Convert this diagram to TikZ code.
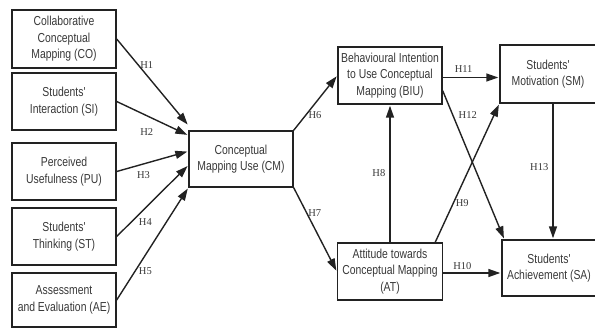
\documentclass[tikz,border=0pt]{standalone}
\usepackage{fontspec}
\setmainfont{Liberation Serif}
\newfontfamily\boxfont[FakeStretch=0.8]{Liberation Sans}
\usetikzlibrary{arrows.meta,calc}
\definecolor{inkgray}{HTML}{222222}
\definecolor{textgray}{HTML}{383838}
\begin{document}
\begin{tikzpicture}[x=1pt,y=-1pt,shorten >=1pt,->,>={Triangle[length=12pt,width=8pt]}]
        \tikzstyle{construct}=[rectangle,draw=inkgray,line width=1.4pt,minimum width=104pt,minimum height=57pt,align=center,inner sep=1pt,text=textgray,font=\boxfont\fontsize{13}{16.5}\selectfont]
        \tikzstyle{link}=[color=inkgray,line width=1.4pt]
        \tikzstyle{hyp}=[font=\fontsize{10.5}{11}\selectfont,text=textgray,inner sep=1pt]
       \useasboundingbox (0,0) rectangle (595,329);
       \clip (0,0) rectangle (595,329);
       \begin{scope}
         % left column
         \node [construct,minimum height=58pt] (co) at (64,39) {Collaborative\\Conceptual\\Mapping (CO)};
         \node [construct] (si) at (64,101.5) {Students'\\Interaction (SI)};
         \node [construct] (pu) at (64,171.5) {Perceived\\Usefulness (PU)};
         \node [construct] (st) at (64,236.5) {Students'\\Thinking (ST)};
         \node [construct,minimum height=54pt] (ae) at (64,300) {Assessment\\and Evaluation (AE)};
         % middle
         \node [construct,minimum height=56pt] (cm) at (241,159) {Conceptual\\Mapping Use (CM)};
         \node [construct] (biu) at (390,75.5) {Behavioural Intention\\to Use Conceptual\\Mapping (BIU)};
         \node [construct,minimum width=105pt] (at) at (390,271.5) {Attitude towards\\Conceptual Mapping\\(AT)};
         % right column
         \node [construct,minimum width=96pt,minimum height=58pt] (sm) at (548,74) {Students'\\Motivation (SM)};
         \node [construct,minimum width=94pt,minimum height=56pt] (sa) at (549,268) {Students'\\Achievement (SA)};

         \coordinate (h1tip) at ($(cm.north west)+(0,-5)$);
         \coordinate (h2tip) at ($(cm.north west)+(0,5)$);
         \coordinate (h3tip) at ($(cm.north west)+(0,21)$);
         \coordinate (h4tip) at ($(cm.north west)+(0,35)$);

         \path[link] (co.east) edge node[hyp,pos=.42,above=5pt] {H1} (h1tip);
         \path[link] (si.east) edge node[hyp,pos=.42,below=11pt] {H2} (h2tip);
         \path[link] (pu.east) edge node[hyp,pos=.375,below=6pt] {H3} (h3tip);
         \path[link] (st.east) edge node[hyp,pos=.40,below=9pt] {H4} (h4tip);
         \path[link] (ae.east) edge node[hyp,pos=.40,below=11pt] {H5} (cm.south west);

         \path[link] (cm.north east) edge node[hyp,pos=.49,below=6.5pt] {H6} (biu.west);
         \path[link] (cm.south east) edge node[hyp,pos=.49,above=11pt] {H7} (at.west);
         \path[link] (at.north) edge node[hyp,pos=.5,left=3pt] {H8} (biu.south);
         \path[link] ([xshift=-8pt]at.north east) edge node[hyp,pos=.28,right=1pt] {H9} (sm.south west);
         \path[link] ([yshift=-1.5pt]at.east) edge node[hyp,pos=.33,above=2pt] {H10} ([yshift=-1.5pt]at.east -| sa.west);
         \path[link] ([yshift=-2pt]biu.east) edge node[hyp,pos=.37,above=3pt] {H11} ([yshift=-2pt]biu.east -| sm.west);
         \path[link] ([yshift=14pt]biu.south east) edge node[hyp,pos=.167,right=4pt] {H12} ([xshift=3pt]sa.north west);
         \path[link] ([xshift=5pt]sm.south) edge node[hyp,pos=.47,left=3pt] {H13} ([xshift=5pt]sm.south |- sa.north);
        \end{scope}
      \end{tikzpicture}
\end{document}
